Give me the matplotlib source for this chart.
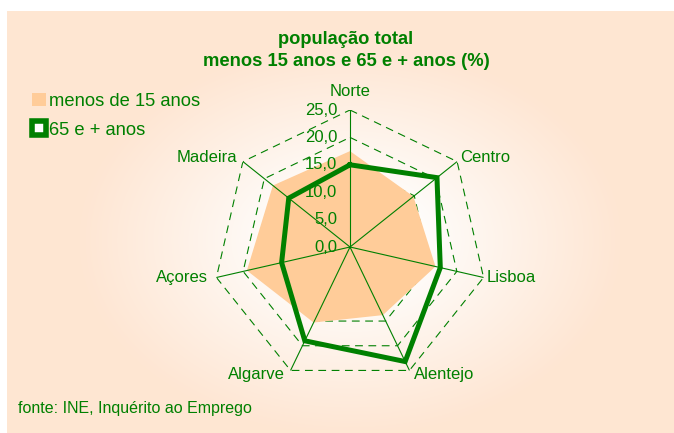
import numpy as np
import matplotlib
matplotlib.use("Agg")
import matplotlib.pyplot as plt
from matplotlib.patches import Patch

plt.rcParams['font.family'] = ['Liberation Sans', 'DejaVu Sans']

categories = ["Norte", "Centro", "Lisboa", "Alentejo", "Algarve", "Açores", "Madeira"]
menos15 = [17.5, 14.8, 16.0, 13.8, 15.3, 19.3, 18.0]
mais65 = [15.0, 20.3, 16.9, 23.2, 19.0, 12.8, 14.3]
rticks = [0, 5, 10, 15, 20, 25]
title_lines = ["população total", "menos 15 anos e 65 e + anos (%)"]
series_labels = ["menos de 15 anos", "65 e + anos"]
source = "fonte: INE, Inquérito ao Emprego"

GREEN = "#008000"
PEACH_FILL = "#FFCC99"
BG = np.array([254, 230, 211]) / 255.0

W, H = 674, 433
fig = plt.figure(figsize=(W / 100, H / 100), dpi=100)
fig.patch.set_facecolor("white")

# background gradient panel
bx0, by_top = 7, 11
bg_ax = fig.add_axes([bx0 / W, 0, (W - bx0) / W, (H - by_top) / H])
bg_ax.set_axis_off()
xs = np.arange(bx0, W)
ys = np.arange(by_top, H)
X, Y = np.meshgrid(xs, ys)
cx, cy = 350, 240
d = np.sqrt(((X - cx) / 300.0) ** 2 + ((Y - cy) / 215.0) ** 2)
t = np.clip((d - 0.2) / 0.7, 0, 1) ** 0.9
img = (1 - t)[..., None] * np.array([1, 1, 1]) + t[..., None] * BG
bg_ax.imshow(img, aspect="auto", interpolation="bilinear")

# radar axes
R = 137
ccx, ccy = 350, H - 247
ax = fig.add_axes([(ccx - R) / W, (ccy - R) / H, 2 * R / W, 2 * R / H], projection="polar")
ax.set_facecolor("none")
ax.set_theta_offset(np.pi / 2)
ax.set_theta_direction(-1)
ax.set_ylim(0, rticks[-1])
ax.grid(False)
ax.spines["polar"].set_visible(False)
ax.set_xticks([])
ax.set_yticks([])

n = len(categories)
angles = np.linspace(0, 2 * np.pi, n, endpoint=False)
ang_c = np.append(angles, angles[0])

# dashed rings
for r in rticks[1:]:
    ax.plot(ang_c, [r] * (n + 1), color=GREEN, lw=0.8, ls=(0, (7, 5)), zorder=1)

# filled series
ax.fill(ang_c, menos15 + menos15[:1], color=PEACH_FILL, lw=0, zorder=2)

# spokes
for a in angles:
    ax.plot([a, a], [0, rticks[-1]], color=GREEN, lw=0.8, zorder=3)

# line series
ax.plot(ang_c, mais65 + mais65[:1], color=GREEN, lw=3.6, zorder=4,
        solid_joinstyle="miter")

# radial tick labels
for r in rticks:
    ax.annotate(f"{r:.1f}".replace(".", ","), xy=(0, r), xytext=(-9, 0),
                textcoords="offset points", ha="right", va="center",
                color=GREEN, fontsize=12, zorder=5)

# category labels
offsets = [(0, 8, "center", "bottom"), (2, 3, "left", "center"), (2.5, 0, "left", "center"),
           (3, -3, "left", "center"), (-4, -3, "right", "center"), (-6, 0, "right", "center"),
           (-4, 3, "right", "center")]
for a, lab, (dx, dy, ha, va) in zip(angles, categories, offsets):
    ax.annotate(lab, xy=(a, rticks[-1]), xytext=(dx, dy), textcoords="offset points",
                ha=ha, va=va, color=GREEN, fontsize=12, annotation_clip=False)

# titles
fig.text(346 / W, 1 - 39 / H, title_lines[0], ha="center", va="center",
         color=GREEN, fontsize=13.2, fontweight="bold")
fig.text(346 / W, 1 - 62 / H, title_lines[1], ha="center", va="center",
         color=GREEN, fontsize=13.2, fontweight="bold")

# legend
handles = [Patch(facecolor=PEACH_FILL, edgecolor="none"),
           Patch(facecolor="white", edgecolor=GREEN, linewidth=4)]
leg = fig.legend(handles, series_labels, loc="upper left",
                 bbox_to_anchor=(32 / W, 1 - 93 / H), frameon=False,
                 handlelength=0.75, handleheight=0.75, handletextpad=0.2,
                 labelspacing=0.62, borderaxespad=0, borderpad=0,
                 prop={"size": 13.2})
for txt in leg.get_texts():
    txt.set_color(GREEN)

fig.text(18 / W, 1 - 408 / H, source, ha="left", va="center", color=GREEN, fontsize=11.5)

fig.savefig("out.png", dpi=100)
